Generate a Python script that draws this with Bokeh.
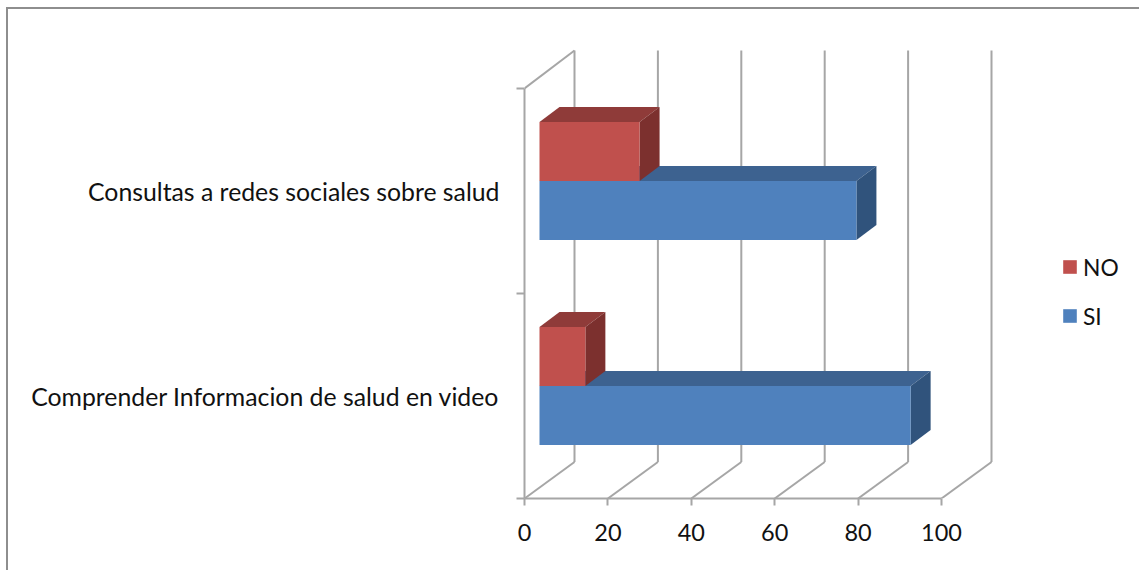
from bokeh.plotting import figure
from bokeh.embed import file_html
from bokeh.resources import INLINE
from bokeh.models import Range1d, FixedTicker, Legend, LegendItem

categories = ["Comprender Informacion de salud en video", "Consultas a redes sociales sobre salud"]
si_values = [89, 76]
no_values = [11, 24]
x_ticks = [0, 20, 40, 60, 80, 100]
y_bounds = [0, 1, 2]

RED, RED_TOP, RED_SIDE = "#C0504D", "#8F3B39", "#7C302E"
BLUE, BLUE_TOP, BLUE_SIDE = "#4F81BD", "#3D6290", "#30537C"
WALL = "#A6A6A6"
FONT = "Lato"
FS_X = "23.5px"
FS_Y = "24.8px"
FS_L = "22.8px"

# scale of the plot
PX_X = 4.17          # pixels per x unit
PX_Y = 205.0         # pixels per category
WALL_DX = 50 / PX_X  # wall depth
WALL_DY = 36.5 / PX_Y
WALL_TOP = 38 / PX_Y # back wall rises slightly above the depth offset
BAR_X0 = 15 / PX_X   # bars start inside the depth
BAR_DX = 20 / PX_X
BAR_DY = 15 / PX_Y
BAR_H = 0.288
BAR_SPLIT = 0.049

BOX_L, BOX_T = 6, 7    # page position of the figure's box (border included)
BORDER = 2
W, H = 1133, 563       # canvas size
ORG_L, ORG_T = BOX_L + BORDER, BOX_T + BORDER
left, right, top, bottom = 524, ORG_L + W, 48, 498

p = figure(width=W, height=H, output_backend="svg", toolbar_location=None,
           x_range=Range1d(0, (right - left) / PX_X),
           y_range=Range1d(0, (bottom - top) / PX_Y),
           min_border_left=left - ORG_L, min_border_right=0,
           min_border_top=top - ORG_T, min_border_bottom=ORG_T + H - bottom,
           background_fill_color="white", border_fill_color="white",
           outline_line_color=None, x_axis_type="linear")
p.styles = {"position": "absolute", "left": f"{BOX_L}px", "top": f"{BOX_T}px",
            "border-left": f"{BORDER}px solid #8E8E8E", "border-top": f"{BORDER}px solid #8E8E8E"}
p.grid.visible = False

# x axis
xa = p.xaxis[0]
xa.bounds = (x_ticks[0], x_ticks[-1])
xa.ticker = FixedTicker(ticks=x_ticks)
xa.axis_line_color = WALL
xa.axis_line_width = 2
xa.major_tick_line_color = WALL
xa.major_tick_line_width = 2
xa.major_tick_in = 0
xa.major_tick_out = 7
xa.minor_tick_line_color = None
xa.major_label_text_font = FONT
xa.major_label_text_font_size = FS_X
xa.major_label_text_color = "#111111"
xa.major_label_standoff = 18

# y axis: labels at category centres, ticks at category boundaries
ya = p.yaxis[0]
ya.bounds = (y_bounds[0], y_bounds[-1])
ya.ticker = FixedTicker(ticks=[i + 0.5 for i in range(len(categories))], minor_ticks=y_bounds)
ya.major_label_overrides = {i + 0.5: c for i, c in enumerate(categories)}
ya.axis_line_color = WALL
ya.axis_line_width = 2
ya.major_tick_line_color = None
ya.major_tick_in = 0
ya.major_tick_out = 0
ya.minor_tick_line_color = WALL
ya.minor_tick_line_width = 2
ya.minor_tick_in = 0
ya.minor_tick_out = 8
ya.major_label_text_font = FONT
ya.major_label_text_font_size = FS_Y
ya.major_label_text_color = "#111111"
ya.major_label_standoff = 17

# back wall and floor lines
bx = [t + WALL_DX for t in x_ticks]
p.segment(x0=bx, x1=bx, y0=[WALL_DY] * len(bx), y1=[y_bounds[-1] + WALL_TOP] * len(bx),
          line_color=WALL, line_width=2)
p.segment(x0=x_ticks, x1=bx, y0=[0] * len(bx), y1=[WALL_DY] * len(bx), line_color=WALL, line_width=2)
p.segment(x0=[0], x1=[WALL_DX], y0=[y_bounds[-1]], y1=[y_bounds[-1] + WALL_TOP], line_color=WALL, line_width=2)


def bar3d(values, lows, highs, front, top_c, side):
    xs0 = [BAR_X0] * len(values)
    xs1 = [BAR_X0 + v for v in values]
    p.patches([[a, b, b + BAR_DX, a + BAR_DX] for a, b in zip(xs0, xs1)],
              [[h, h, h + BAR_DY, h + BAR_DY] for h in highs],
              fill_color=top_c, line_color=None)
    p.patches([[b, b + BAR_DX, b + BAR_DX, b] for b in xs1],
              [[l, l + BAR_DY, h + BAR_DY, h] for l, h in zip(lows, highs)],
              fill_color=side, line_color=None)
    return p.quad(left=xs0, right=xs1, bottom=lows, top=highs, fill_color=front, line_color=None)


centres = [i + 0.5 for i in range(len(categories))]
r_si = bar3d(si_values, [c + BAR_SPLIT - BAR_H for c in centres], [c + BAR_SPLIT for c in centres],
             BLUE, BLUE_TOP, BLUE_SIDE)
r_no = bar3d(no_values, [c + BAR_SPLIT for c in centres], [c + BAR_SPLIT + BAR_H for c in centres],
             RED, RED_TOP, RED_SIDE)

legend = Legend(items=[LegendItem(label="NO", renderers=[r_no]), LegendItem(label="SI", renderers=[r_si])],
                location=(1061 - left, bottom - 330), orientation="vertical",
                glyph_width=17, glyph_height=17, spacing=20, padding=0, margin=0,
                label_standoff=5, label_text_font=FONT, label_text_font_size=FS_L,
                label_text_color="#111111", border_line_color=None, background_fill_alpha=0,
                label_height=29)
p.add_layout(legend, "center")

open("out.html", "w").write(file_html(p, INLINE))
